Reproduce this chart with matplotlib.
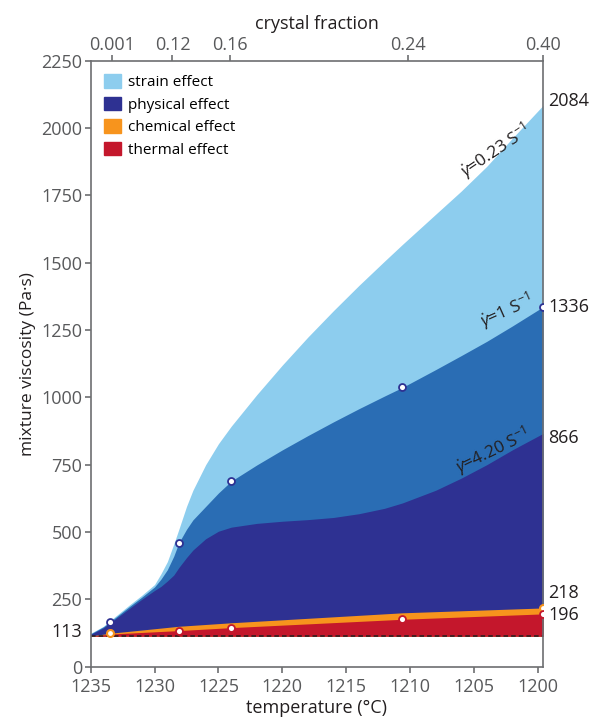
import matplotlib.pyplot as plt
from matplotlib.patches import Patch

plt.rcParams['font.family'] = ['Open Sans', 'DejaVu Sans']
plt.rcParams['mathtext.fontset'] = 'custom'
plt.rcParams['mathtext.rm'] = 'Open Sans'
plt.rcParams['mathtext.it'] = 'Open Sans:italic'

# temperature grid (°C) for the strain / physical curves
temp_blue = [1235, 1234, 1233.5, 1232, 1231, 1230, 1229.5, 1229, 1228.5, 1228.1,
             1227.5, 1227, 1226, 1225, 1224, 1222, 1220, 1218, 1216, 1214,
             1212, 1210.6, 1208, 1206, 1204, 1202, 1199.6]
# mixture viscosity (Pa·s) at the three shear rates
visc_g023 = [124, 150, 170, 228, 265, 305, 345, 390, 455, 510,
             595, 655, 750, 828, 893, 1010, 1120, 1224, 1322, 1416,
             1506, 1568, 1680, 1766, 1858, 1962, 2084]
visc_g1 = [122, 148, 166, 222, 258, 296, 325, 360, 410, 460,
           510, 545, 595, 645, 689, 749, 805, 858, 909, 958,
           1005, 1037, 1103, 1155, 1208, 1265, 1336]
visc_g420 = [120, 144, 162, 215, 250, 283, 298, 318, 340, 368,
             405, 433, 475, 503, 518, 532, 540, 546, 554, 568,
             588, 608, 655, 700, 750, 805, 866]

# chemical and thermal contributions
temp_melt = [1235, 1233.5, 1228.1, 1224, 1210.6, 1199.6]
visc_chem = [114, 124, 150, 163, 200, 218]
visc_thermal = [113, 121, 134, 145, 176, 196]
visc_base = 113

# sample points
temp_samples = [1233.5, 1228.1, 1224, 1210.6, 1199.6]

# crystal fraction scale on top
frac_temps = [1233.3, 1228.6, 1224.1, 1210.2, 1199.6]
frac_labels = ['0.001', '0.12', '0.16', '0.24', '0.40']

c_light = '#8dcdee'
c_mid = '#2a6db4'
c_navy = '#2e3192'
c_orange = '#f7941d'
c_red = '#c4172c'
c_axis = '#6d6e71'
c_tick = '#58595b'

fig = plt.figure(figsize=(5.95, 7.17), dpi=100)
ax = fig.add_axes([0.1524, 0.0702, 0.7602, 0.8451])

ax.fill_between(temp_blue, visc_base, visc_g023, color=c_light, lw=0)
ax.fill_between(temp_blue, visc_base, visc_g1, color=c_mid, lw=0)
ax.fill_between(temp_blue, visc_base, visc_g420, color=c_navy, lw=0)
ax.fill_between(temp_melt, visc_base, visc_chem, color=c_orange, lw=0)
ax.fill_between(temp_melt, visc_base, visc_thermal, color=c_red, lw=0)
ax.axhline(visc_base, color='#231f20', lw=1.1, ls=(0, (3, 2)))

# sample markers
idx_blue = [temp_blue.index(t) for t in temp_samples]
ax.plot(temp_samples, [visc_g1[i] for i in idx_blue], 'o', ms=5, mfc='white',
        mec=c_navy, mew=1.3, zorder=5)
ax.plot([temp_melt[1], temp_melt[-1]], [visc_chem[1], visc_chem[-1]], 'o', ms=5,
        mfc='white', mec=c_orange, mew=1.5, zorder=5)
ax.plot(temp_melt[2:], visc_thermal[2:], 'o', ms=5, mfc='white', mec=c_red,
        mew=1.3, zorder=5)

ax.set_xlim(1235, 1199.6)
ax.set_ylim(0, 2250)
ax.set_xticks(range(1235, 1199, -5))
ax.set_yticks(range(0, 2251, 250))

for sp in ax.spines.values():
    sp.set_color(c_axis)
    sp.set_linewidth(1.2)
ax.tick_params(colors=c_axis, labelcolor=c_tick, labelsize=13, length=4,
               width=1.2, pad=2)
ax.tick_params(axis='x', pad=4)
ax.set_xlabel('temperature (°C)', fontsize=13, color='#231f20', labelpad=2)
ax.set_ylabel('mixture viscosity (Pa·s)', fontsize=12.5, color='#231f20',
              labelpad=4)

top = ax.twiny()
top.set_xlim(ax.get_xlim())
top.set_xticks(frac_temps)
top.set_xticklabels(frac_labels)
top.tick_params(colors=c_axis, labelcolor=c_tick, labelsize=13, length=4,
                width=1.2, pad=1)
for sp in top.spines.values():
    sp.set_visible(False)
top.set_xlabel('crystal fraction', fontsize=13, color='#231f20', labelpad=5)

# shear-rate labels along the curves
ax.annotate(r'$\dot{\gamma}$=0.23 S$^{-1}$', (1204, visc_g023[24]),
            xytext=(6, 11), textcoords='offset points', rotation=34,
            ha='center', va='center', fontsize=12.5, color='#231f20')
ax.annotate(r'$\dot{\gamma}$=1 S$^{-1}$', (1202, visc_g1[25]),
            xytext=(-4, 11), textcoords='offset points', rotation=24,
            ha='center', va='center', fontsize=12.5, color='#231f20')
ax.annotate(r'$\dot{\gamma}$=4.20 S$^{-1}$', (1204, visc_g420[24]),
            xytext=(4, 10), textcoords='offset points', rotation=26,
            ha='center', va='center', fontsize=12.5, color='#231f20')

# end values
end_labels = [(visc_g023[-1], 3), (visc_g1[-1], 0), (visc_g420[-1], -3),
              (visc_chem[-1], 11), (visc_thermal[-1], -1)]
for val, dy in end_labels:
    ax.annotate(f'{val}', (1199.6, val), xytext=(4, dy),
                textcoords='offset points', ha='left', va='center',
                fontsize=13, color='#231f20', annotation_clip=False)
ax.annotate(f'{visc_base}', (1235, visc_base), xytext=(-6, 3),
            textcoords='offset points', ha='right', va='center',
            fontsize=13, color='#231f20', annotation_clip=False)

handles = [Patch(color=c_light, label='strain effect'),
           Patch(color=c_navy, label='physical effect'),
           Patch(color=c_orange, label='chemical effect'),
           Patch(color=c_red, label='thermal effect')]
ax.legend(handles=handles, loc='upper left', bbox_to_anchor=(0.03, 0.978),
          frameon=False, fontsize=11, handlelength=1.1, handleheight=1.0,
          handletextpad=0.45, labelspacing=0.42, borderpad=0,
          borderaxespad=0)

fig.savefig('out.png', dpi=100)
